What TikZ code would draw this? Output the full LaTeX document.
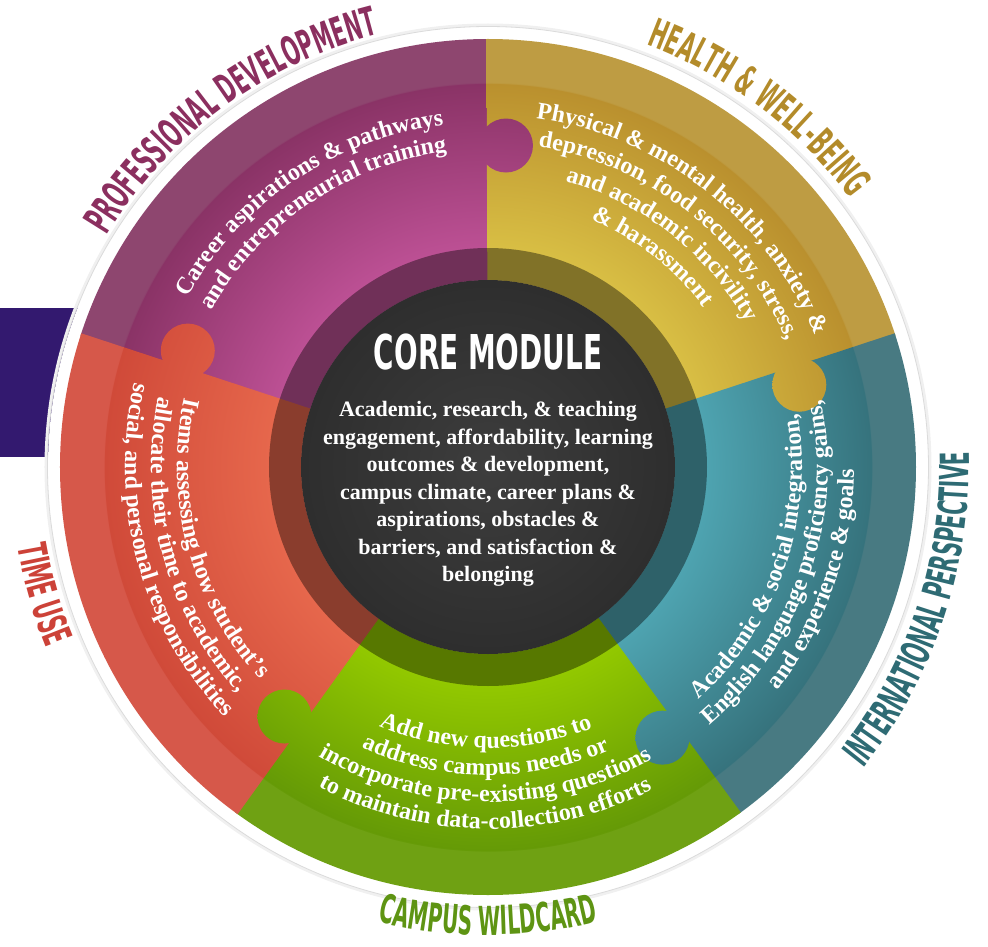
\documentclass[tikz,border=0pt]{standalone}
\usepackage{fontspec}
\usepackage{xcolor}
\usepackage{tikz}
\usetikzlibrary{decorations.text}
\setmainfont{Liberation Serif}
\newfontfamily\labelfont{DejaVu Sans}[FakeStretch=0.5]
\newfontfamily\corefont{DejaVu Sans}[FakeStretch=0.58]

\definecolor{pdrim}{HTML}{8E466F}
\definecolor{pdout}{HTML}{8A3366}
\definecolor{pdin}{HTML}{BC5094}
\definecolor{pdtext}{HTML}{8B2F5F}
\definecolor{hwrim}{HTML}{BE9C43}
\definecolor{hwout}{HTML}{BA902E}
\definecolor{hwin}{HTML}{D8BE44}
\definecolor{hwtext}{HTML}{B38B2A}
\definecolor{iprim}{HTML}{487A82}
\definecolor{ipout}{HTML}{36737D}
\definecolor{ipin}{HTML}{4EA3B0}
\definecolor{iptext}{HTML}{2E6B74}
\definecolor{cwrim}{HTML}{6FA113}
\definecolor{cwout}{HTML}{659A06}
\definecolor{cwin}{HTML}{92C800}
\definecolor{cwtext}{HTML}{5E9413}
\definecolor{turim}{HTML}{D6584A}
\definecolor{tuout}{HTML}{D04A39}
\definecolor{tuin}{HTML}{E6674C}
\definecolor{tutext}{HTML}{CC4238}
\definecolor{sidebar}{HTML}{33196F}

\colorlet{secin}{white}
\colorlet{secout}{white}
\colorlet{secrim}{white}
% path edge (r=428) sits at 25bp of the shading
\pgfdeclareradialshading[secin,secout,secrim]{sectorshade}{\pgfpoint{0bp}{0bp}}{%
  color(0bp)=(secin); color(12.8bp)=(secin); color(22.4bp)=(secout);
  color(22.45bp)=(secrim); color(25bp)=(secrim); color(50bp)=(secrim)}

\tikzset{
  rimlabel/.style 2 args={decorate, decoration={text along path, text align=center,
      text={|\labelfont\bfseries\fontsize{40}{40}\selectfont\color{#1}|#2}}},
  itemline/.style={decorate, decoration={text along path, text align=center,
      text={|\bfseries\fontsize{24}{24}\selectfont\color{white}|#1}}}
}

\begin{document}
\begin{tikzpicture}[x=1pt, y=1pt]
    \useasboundingbox (-488,-479) rectangle (500,467);

    % Side bar and white rim
    \fill [sidebar] (-488,159) rectangle (-380,10);
    \fill [white] (0,0) circle (440);
    \draw [black!6, line width=3] (0,0) circle (442);
    \draw [black!14, line width=0.8] (0,0) circle (440.5);

    % Wheel
    \foreach \a/\ci/\co/\cr in {90/pdin/pdout/pdrim, 18/hwin/hwout/hwrim, -54/ipin/ipout/iprim,
                                -126/cwin/cwout/cwrim, 162/tuin/tuout/turim} {
        \colorlet{secin}{\ci}\colorlet{secout}{\co}\colorlet{secrim}{\cr}
        \pgfmathsetmacro\s{\a-0.2}
        \begin{scope}
            \clip (0,0) -- (\s:450) arc[start angle=\s, delta angle=72.4, radius=450] -- cycle;
            \shade [shading=sectorshade] (0,0) circle (428);
        \end{scope}
    }
    % Puzzle knobs
    \foreach \a/\ci/\co/\cr in {90/pdin/pdout/pdrim, 18/hwin/hwout/hwrim, -54/ipin/ipout/iprim,
                                -126/cwin/cwout/cwrim, 162/tuin/tuout/turim} {
        \colorlet{secin}{\ci}\colorlet{secout}{\co}\colorlet{secrim}{\cr}
        \begin{scope}
            \clip (\a-3.2:322) circle (27);
            \shade [shading=sectorshade] (0,0) circle (428);
        \end{scope}
    }

    % Core
    \fill [black, opacity=0.4, even odd rule] (0,0) circle (219) circle (187);
    \shade [inner color=black!76, outer color=black!82] (0,0) circle (187);
    \node [text=white, font=\corefont\bfseries\fontsize{48}{48}\selectfont] (coretitle) at (0,115) {CORE MODULE};
    \node [text=white, align=center, font=\bfseries\fontsize{22}{27.5}\selectfont] (coretext) at (0,-27)
        {Academic, research, \& teaching\\engagement, affordability, learning\\outcomes \& development,\\
         campus climate, career plans \&\\aspirations, obstacles \&\\barriers, and satisfaction \&\\belonging};

    % Outer labels
    \path [rimlabel={pdtext}{PROFESSIONAL DEVELOPMENT}] (170:446) arc[start angle=170, end angle=83, radius=446];
    \path [rimlabel={hwtext}{HEALTH {\&} WELL-BEING}] (93:451) arc[start angle=93, end angle=13, radius=451];
    \path [rimlabel={iptext}{INTERNATIONAL PERSPECTIVE}] (-63.5:481) arc[start angle=-63.5, end angle=26.5, radius=481];
    \path [rimlabel={cwtext}{CAMPUS WILDCARD}] (-130:468) arc[start angle=-130, end angle=-50, radius=468];
    \path [rimlabel={tutext}{TIME USE}] (171:477) arc[start angle=171, end angle=221, radius=477];

    % Sector items
    \path [itemline={Career aspirations {\&} pathways}] (164:345) arc[start angle=164, end angle=84, radius=345];
    \path [itemline={and entrepreneurial training}] (164:318) arc[start angle=164, end angle=84, radius=318];

    \path [itemline={Physical {\&} mental health, anxiety {\&}}] (92:352) arc[start angle=92, end angle=12, radius=352];
    \path [itemline={depression, food security, stress,}] (92:324) arc[start angle=92, end angle=12, radius=324];
    \path [itemline={and academic incivility}] (92:296) arc[start angle=92, end angle=12, radius=296];
    \path [itemline={{\&} harassment}] (92:268) arc[start angle=92, end angle=12, radius=268];

    \path [itemline={Academic {\&} social integration,}] (-59:314) arc[start angle=-59, end angle=21, radius=314];
    \path [itemline={English language proficiency gains,}] (-59:340) arc[start angle=-59, end angle=21, radius=340];
    \path [itemline={and experience {\&} goals}] (-59:366) arc[start angle=-59, end angle=21, radius=366];

    \path [itemline={Add new questions to}] (-130.5:281) arc[start angle=-130.5, end angle=-50.5, radius=281];
    \path [itemline={address campus needs or}] (-130.5:308) arc[start angle=-130.5, end angle=-50.5, radius=308];
    \path [itemline={incorporate pre-existing questions}] (-130.5:335) arc[start angle=-130.5, end angle=-50.5, radius=335];
    \path [itemline={to maintain data-collection efforts}] (-130.5:362) arc[start angle=-130.5, end angle=-50.5, radius=362];

    \path [itemline={Items assessing how student’s}] (155:311) arc[start angle=155, end angle=235, radius=311];
    \path [itemline={allocate their time to academic,}] (155:337) arc[start angle=155, end angle=235, radius=337];
    \path [itemline={social, and personal responsibilities}] (155:363) arc[start angle=155, end angle=235, radius=363];
\end{tikzpicture}
\end{document}
